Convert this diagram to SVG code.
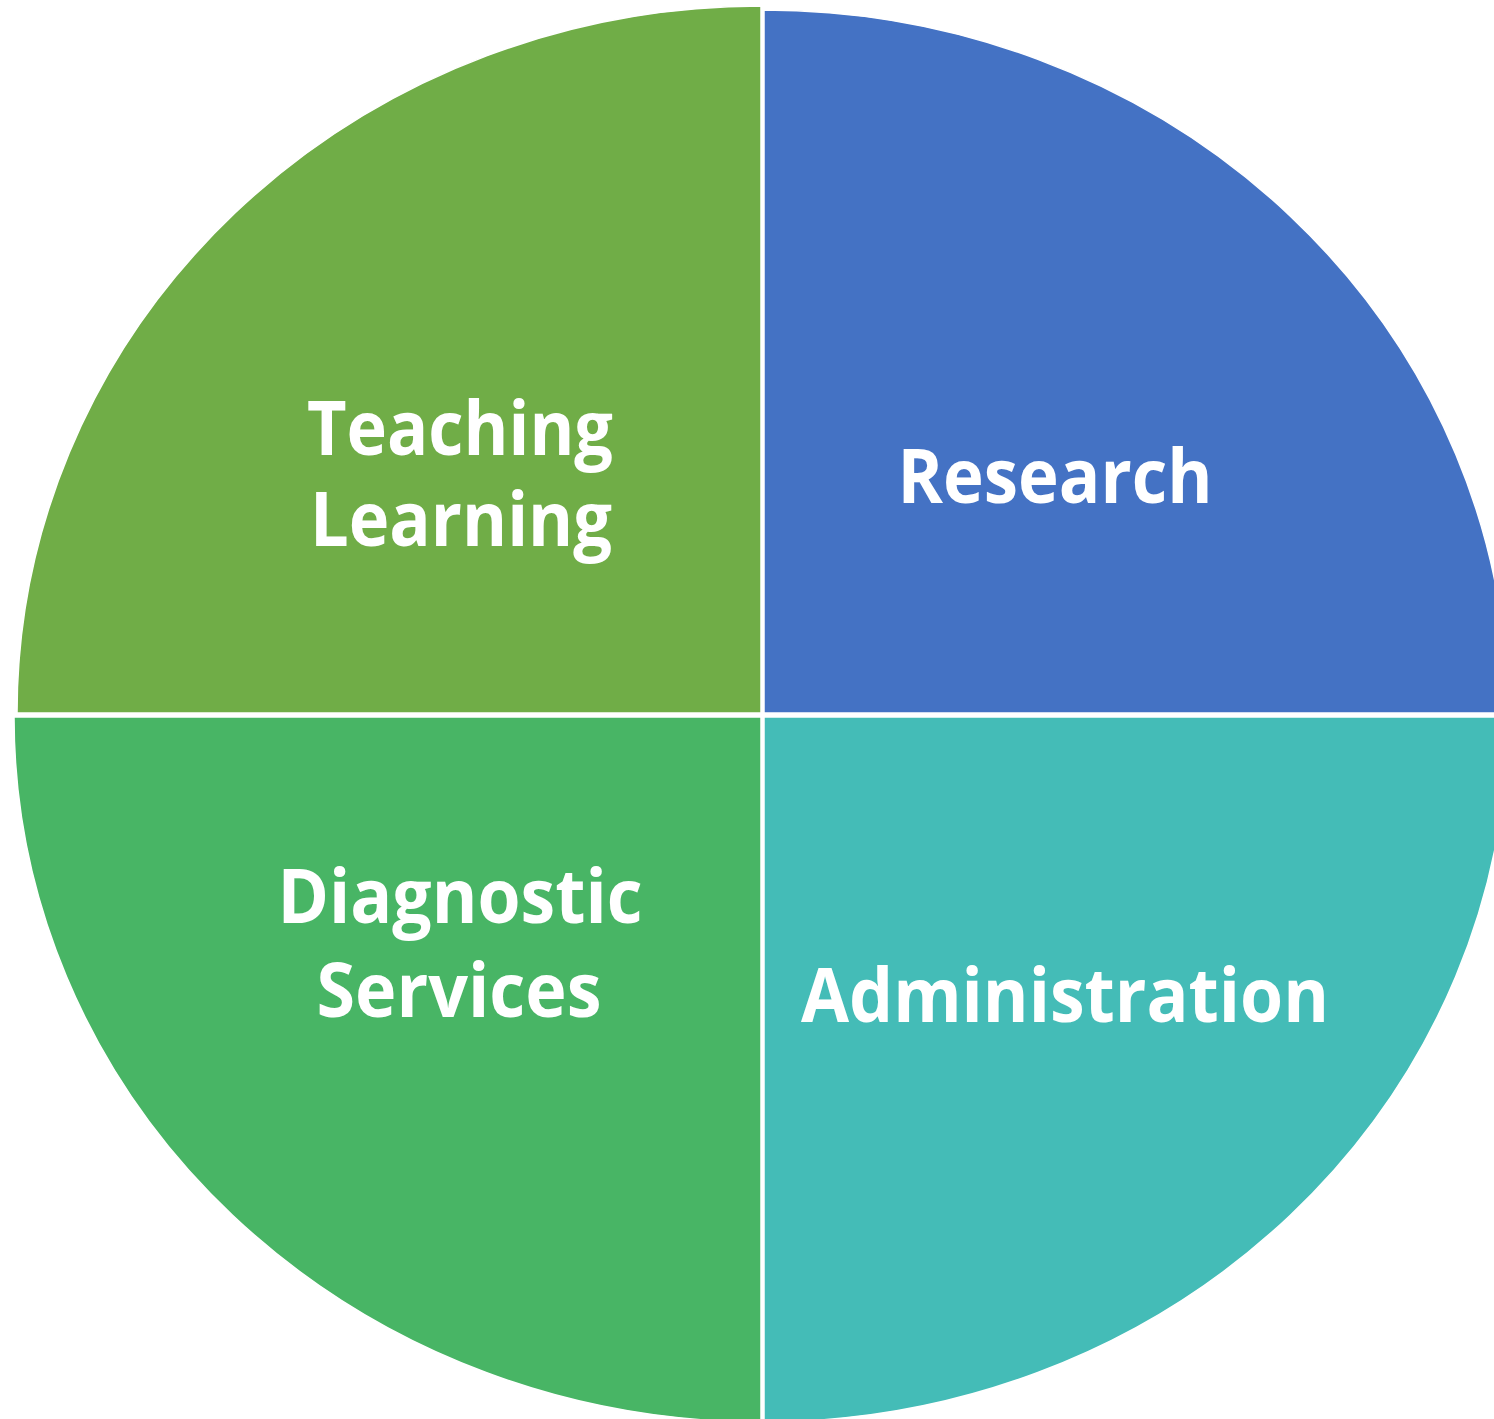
<svg xmlns="http://www.w3.org/2000/svg" width="1494" height="1419" viewBox="0 0 1494 1419">
<style>
.q{stroke:#ffffff;stroke-width:1.5}
.t{font-family:"Open Sans","Liberation Sans",sans-serif;font-weight:bold;font-size:76px;fill:#ffffff;text-anchor:middle}
</style>
<rect width="1494" height="1419" fill="#ffffff"/>
<g id="teaching-learning">
<path class="q" fill="#70AD47" d="M761,713 L17,713 A744,707 0 0 1 761,6 Z"/>
<text class="t" x="460" y="455" textLength="306" lengthAdjust="spacingAndGlyphs">Teaching</text>
<text class="t" x="461" y="546" textLength="302" lengthAdjust="spacingAndGlyphs">Learning</text>
</g>
<g id="research">
<path class="q" fill="#4472C4" d="M764,713 L764,10 A744,703 0 0 1 1508,713 Z"/>
<text class="t" x="1055" y="503" textLength="315" lengthAdjust="spacingAndGlyphs">Research</text>
</g>
<g id="diagnostic-services">
<path class="q" fill="#48B565" d="M761,717 L761,1422 A747,705 0 0 1 14,717 Z"/>
<text class="t" x="460" y="923" textLength="365" lengthAdjust="spacingAndGlyphs">Diagnostic</text>
<text class="t" x="459" y="1017" textLength="285" lengthAdjust="spacingAndGlyphs">Services</text>
</g>
<g id="administration">
<path class="q" fill="#44BCB7" d="M764,717 L1508,717 A744,705 0 0 1 764,1422 Z"/>
<text class="t" x="1065" y="1022" textLength="528" lengthAdjust="spacingAndGlyphs">Administration</text>
</g>
<g id="connectors"></g>
</svg>
